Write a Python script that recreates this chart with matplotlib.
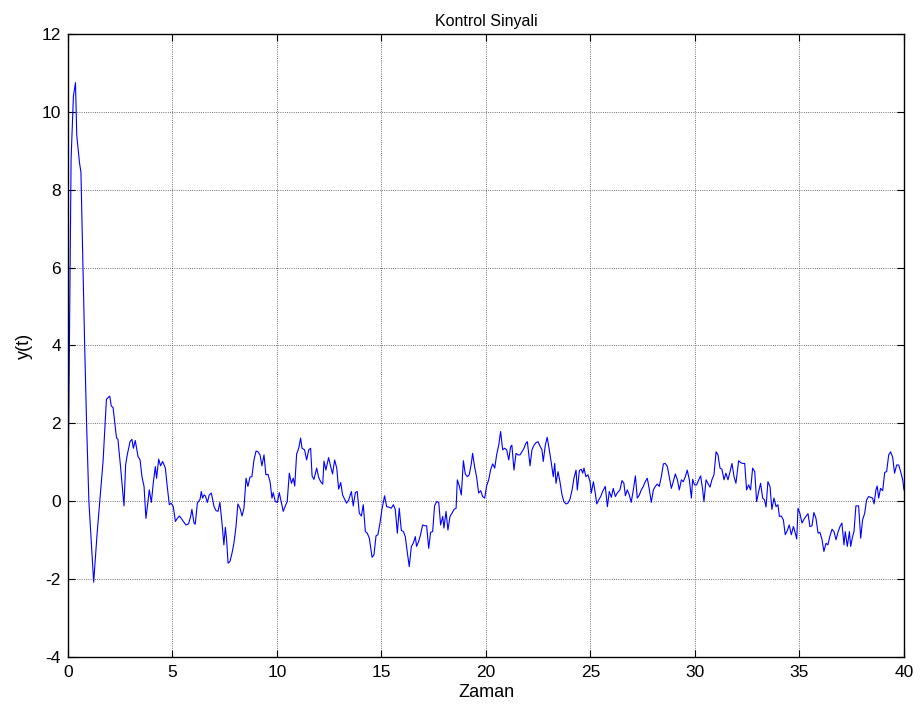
import matplotlib
matplotlib.use("Agg")
import matplotlib.pyplot as plt
import numpy as np

plt.rcParams["font.family"] = ["Liberation Sans", "DejaVu Sans"]
plt.rcParams["axes.unicode_minus"] = False

# okunan sinyal degerleri (zaman, y) - 10 saniyelik parcalar
t_a = [0, 0.15, 0.26, 0.36, 0.42, 0.55, 0.62, 0.8, 0.89, 1.0, 1.23, 1.39, 1.52, 1.68, 1.84,
       2.0, 2.07, 2.16, 2.32, 2.39, 2.52, 2.68, 2.76, 2.84,
       2.97, 3.06, 3.13, 3.22, 3.35, 3.45, 3.54, 3.64, 3.73, 3.83, 3.89, 3.99, 4.08, 4.18, 4.24,
       4.34, 4.43, 4.53, 4.66, 4.75, 4.85, 4.94, 5.04, 5.14, 5.23, 5.33, 5.42, 5.52, 5.65, 5.77,
       5.87, 5.93, 6.03, 6.09, 6.19, 6.32, 6.38, 6.44, 6.51, 6.57, 6.67, 6.76, 6.86,
       6.99, 7.08, 7.18, 7.27, 7.37, 7.46, 7.53, 7.59, 7.66, 7.75, 7.85, 7.94, 8.04, 8.13, 8.23,
       8.33, 8.42, 8.52, 8.61, 8.71, 8.80, 8.90, 9.00, 9.09, 9.19, 9.28, 9.38, 9.47, 9.57, 9.67,
       9.76, 9.82, 9.92]
y_a = [0, 8.8, 10.4, 10.75, 9.4, 8.7, 8.45, 3.97, 2.0, 0.0, -2.08, -0.86, 0.0, 1.03, 2.62,
       2.70, 2.45, 2.40, 1.63, 1.59, 0.86, -0.12, 0.94, 1.2,
       1.53, 1.59, 1.36, 1.56, 1.15, 1.06, 0.63, 0.38, -0.44, 0.0, 0.29, -0.03, 0.46, 0.89, 0.59,
       1.08, 0.91, 1.02, 0.85, 0.38, -0.09, -0.05, -0.14, -0.52, -0.44, -0.38, -0.44, -0.52, -0.61, -0.58,
       -0.39, -0.21, -0.56, -0.59, -0.05, 0.05, 0.25, 0.08, 0.16, 0.14, -0.03, 0.16, 0.21,
       -0.14, -0.24, -0.26, -0.03, -0.56, -1.12, -0.67, -0.99, -1.59, -1.55, -1.33, -1.08, -0.65, -0.07, -0.18,
       -0.38, -0.18, 0.59, 0.38, 0.62, 0.63, 1.06, 1.29, 1.27, 1.19, 0.91, 1.19, 0.68, 0.69, 0.50,
       0.08, 0.22, -0.01]

t_b = [10.02, 10.11, 10.21, 10.30, 10.40, 10.49, 10.59, 10.69, 10.78,
       10.85, 10.94, 11.04, 11.13, 11.20, 11.32, 11.42, 11.52, 11.61, 11.68, 11.77, 11.90, 11.99,
       12.09, 12.19, 12.25, 12.34, 12.47, 12.57, 12.66, 12.76, 12.86, 12.95, 13.05, 13.14, 13.24,
       13.33, 13.43, 13.56, 13.65, 13.75, 13.84, 13.94, 14.04, 14.13, 14.23, 14.32, 14.42,
       14.55, 14.64, 14.74, 14.83, 14.93, 15.02, 15.15, 15.25, 15.34, 15.47, 15.57, 15.66, 15.76,
       15.85, 15.95, 16.05, 16.14, 16.24, 16.33, 16.43, 16.52, 16.62, 16.68, 16.78, 16.87, 16.97,
       17.07, 17.16, 17.26, 17.35, 17.45, 17.54, 17.64, 17.74, 17.83, 17.93, 17.99, 18.09, 18.18,
       18.28, 18.37, 18.47, 18.57, 18.63, 18.73, 18.82, 18.92, 19.01, 19.11, 19.20, 19.30, 19.36,
       19.46, 19.55, 19.65, 19.75, 19.84, 19.94]
y_b = [-0.03, 0.22, -0.03, -0.26, -0.12, -0.01, 0.72, 0.46, 0.59,
       0.39, 1.21, 1.36, 1.62, 1.36, 1.32, 1.06, 1.32, 1.36, 0.65, 0.56, 0.85, 0.62,
       0.50, 0.44, 1.03, 0.80, 1.12, 0.89, 0.70, 1.06, 0.85, 0.31, 0.48, 0.16, 0.05,
       -0.05, 0.03, 0.25, -0.12, 0.22, 0.25, -0.31, -0.38, -0.09, -0.78, -0.82, -0.95,
       -1.44, -1.38, -0.89, -0.86, -0.56, -0.22, 0.14, -0.14, -0.15, -0.18, -0.09, -0.21, -0.82,
       -0.18, -0.75, -0.78, -0.91, -1.33, -1.68, -1.16, -1.08, -0.91, -1.16, -1.03, -0.86, -0.61,
       -0.63, -0.63, -1.21, -0.80, -0.78, -0.12, -0.01, -0.03, -0.61, -0.39, -0.69, -0.26, -0.74,
       -0.39, -0.31, -0.21, -0.18, 0.55, 0.38, 0.16, 1.04, 0.70, 0.63, 0.68, 0.97, 1.23,
       0.87, 0.63, 0.21, 0.27, 0.12, 0.08]

t_c = [20.03, 20.13, 20.22, 20.32, 20.42, 20.51, 20.61, 20.70, 20.80, 20.89, 20.99, 21.09,
       21.18, 21.24, 21.34, 21.44, 21.53, 21.63, 21.72, 21.82, 21.91, 21.98,
       22.11, 22.20, 22.30, 22.39, 22.49, 22.58, 22.68, 22.74, 22.84, 22.93, 23.03, 23.13, 23.22,
       23.29, 23.35, 23.45, 23.54, 23.64, 23.73, 23.83, 23.92, 24.02, 24.12, 24.21, 24.31, 24.37,
       24.47, 24.56, 24.63, 24.69, 24.78, 24.88, 24.98, 25.04, 25.14, 25.23, 25.30, 25.39, 25.49,
       25.58, 25.71, 25.81, 25.90, 26.00, 26.09, 26.19, 26.28,
       26.41, 26.51, 26.60, 26.67, 26.76, 26.86, 26.95, 27.05, 27.15, 27.24, 27.34, 27.43, 27.53,
       27.62, 27.72, 27.82, 27.91, 28.01, 28.10, 28.20, 28.29, 28.39, 28.49, 28.58, 28.68, 28.77,
       28.87, 28.96, 29.06, 29.16, 29.25, 29.35, 29.44, 29.54, 29.63, 29.73, 29.83, 29.89, 29.98]
y_c = [0.39, 0.55, 0.80, 0.96, 0.85, 1.19, 1.44, 1.79, 1.32, 1.36, 1.32, 1.06,
       1.40, 1.44, 0.80, 1.23, 1.19, 1.19, 1.27, 1.36, 1.49, 1.53,
       0.91, 1.32, 1.44, 1.50, 1.53, 1.42, 1.32, 1.02, 1.44, 1.64, 1.32, 0.97, 0.63,
       0.97, 0.46, 0.76, 0.50, 0.16, -0.01, -0.07, -0.05, 0.05, 0.29, 0.59, 0.80, 0.29,
       0.79, 0.82, 0.72, 0.85, 0.63, 0.68, 0.50, 0.21, 0.50, 0.21, -0.07, 0.03, 0.12,
       0.25, 0.38, -0.14, 0.25, 0.10, 0.33, 0.12, 0.21,
       0.29, 0.53, 0.46, 0.14, 0.29, 0.16, -0.03, 0.29, 0.65, 0.08, 0.16, 0.29, 0.38,
       0.50, 0.59, 0.29, -0.03, 0.29, 0.38, 0.44, 0.38, 0.63, 0.96, 0.97, 0.89, 0.63,
       0.33, 0.50, 0.70, 0.55, 0.29, 0.55, 0.50, 0.63, 0.80, 0.55, 0.08, 0.56, 0.42]

t_d = [30.08, 30.18, 30.27, 30.37, 30.43, 30.53, 30.62, 30.72, 30.81, 30.91, 31.01, 31.10,
       31.20, 31.29, 31.39, 31.48, 31.58, 31.68, 31.77, 31.87, 31.96, 32.09, 32.19, 32.28, 32.38,
       32.47, 32.57, 32.66, 32.76, 32.86, 32.95, 33.05, 33.14, 33.24, 33.33, 33.40, 33.49, 33.59,
       33.68, 33.78, 33.88, 33.97,
       34.04, 34.13, 34.23, 34.32, 34.42, 34.51, 34.61, 34.71, 34.80, 34.87, 34.93, 35.02, 35.12,
       35.22, 35.31, 35.41, 35.50, 35.60, 35.69, 35.79, 35.89, 35.98, 36.08, 36.17, 36.27, 36.36,
       36.46, 36.56, 36.65, 36.75, 36.84, 36.94, 37.03, 37.13, 37.19, 37.29, 37.39, 37.45, 37.54,
       37.61, 37.70, 37.83,
       37.93, 38.02, 38.12, 38.21, 38.31, 38.41, 38.50, 38.57, 38.66, 38.72, 38.79, 38.88, 38.98,
       39.08, 39.17, 39.27, 39.36, 39.46, 39.55, 39.65, 39.75, 39.84, 39.94, 40.0]
y_d = [0.42, 0.55, 0.65, 0.29, -0.01, 0.55, 0.46, 0.36, 0.55, 0.68, 1.27, 1.19,
       0.85, 0.82, 0.55, 0.72, 0.55, 0.76, 0.97, 0.63, 0.46, 1.04, 0.99, 0.97, 0.97,
       0.29, 0.42, 0.29, 0.85, 0.76, -0.01, 0.25, 0.46, 0.08, 0.03, -0.15, 0.50, 0.38,
       -0.21, 0.08, -0.14, -0.09,
       -0.39, -0.38, -0.48, -0.86, -0.75, -0.61, -0.86, -0.65, -0.82, -0.97, -0.18, -0.31, -0.56,
       -0.46, -0.39, -0.32, -0.65, -0.63, -0.29, -0.44, -0.82, -0.80, -0.99, -1.29, -1.08, -1.12,
       -0.89, -0.72, -0.78, -0.99, -0.80, -0.65, -0.56, -1.12, -0.78, -1.16, -0.78, -1.16, -0.91,
       -0.78, -0.12, -0.12,
       -0.95, -0.48, -0.31, 0.03, 0.12, 0.10, 0.08, -0.07, 0.29, 0.39, 0.08, 0.33, 0.27,
       0.74, 0.76, 1.19, 1.27, 1.13, 0.72, 0.93, 0.93, 0.76, 0.55, 0.29]

zaman = np.concatenate([t_a, t_b, t_c, t_d])
sinyal = np.concatenate([y_a, y_b, y_c, y_d])

fig = plt.figure(figsize=(9.21, 7.18), dpi=100)
ax = fig.add_axes([0.0738, 0.085, 0.9077, 0.8677])
ax.plot(zaman, sinyal, color="#0000FF", lw=0.8)

ax.set_xlim(0, 40)
ax.set_ylim(-4, 12)
ax.set_xticks(np.arange(0, 41, 5))
ax.set_yticks(np.arange(-4, 13, 2))
ax.grid(True, linestyle=":", color="0.25", lw=0.6)
ax.tick_params(direction="in", top=True, right=True, length=5, width=0.8, labelsize=12.5)
ax.tick_params(axis="x", pad=6)
ax.tick_params(axis="y", pad=5)
for s in ax.spines.values():
    s.set_linewidth(1.0)

ax.set_title("Kontrol Sinyali", fontsize=11.5, pad=6)
ax.set_xlabel("Zaman", fontsize=13, labelpad=3)
ax.set_ylabel("y(t)", fontsize=13, labelpad=6)

fig.savefig("out.png", dpi=100, facecolor="white")
